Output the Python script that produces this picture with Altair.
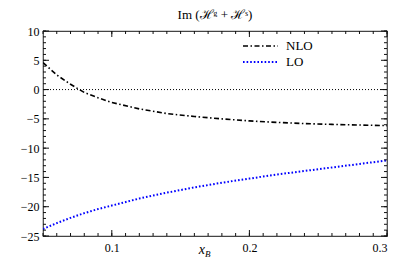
import altair as alt
import pandas as pd

x_vals = [0.05, 0.06, 0.07, 0.08, 0.09, 0.10, 0.12, 0.14, 0.16, 0.18, 0.20, 0.22, 0.24, 0.26, 0.28, 0.30]
nlo_vals = [4.6, 2.5, 0.9, -0.5, -1.4, -2.2, -3.3, -4.1, -4.6, -5.0, -5.35, -5.6, -5.8, -5.95, -6.05, -6.15]
lo_vals = [-23.8, -22.8, -21.9, -21.1, -20.4, -19.8, -18.6, -17.6, -16.7, -15.9, -15.2, -14.5, -13.9, -13.3, -12.7, -12.1]
series = ["NLO", "LO"]
colors = ["black", "blue"]
dashes = [[5, 2.5, 1.5, 2.5], [1.6, 2]]
widths = [1.6, 2.0]

x_major = [0.1, 0.2, 0.3]
x_minor = [round(0.05 + 0.01 * i, 2) for i in range(26)]
y_major = [-25, -20, -15, -10, -5, 0, 5, 10]
y_minor = list(range(-25, 11))

rows = []
for s, vals in zip(series, [nlo_vals, lo_vals]):
    for xv, yv in zip(x_vals, vals):
        rows.append({"x": xv, "y": yv, "s": s})
df = pd.DataFrame(rows)
zero_df = pd.DataFrame({"v": [0]})

FONT = "Liberation Serif, DejaVu Serif, serif"
FRAME = "#444444"
TICK = "#111111"
W, H = 344, 205
xs = alt.Scale(domain=[0.05, 0.3], nice=False, zero=False)
ys = alt.Scale(domain=[-25, 10], nice=False, zero=False)

ax_x = alt.Axis(values=x_major, ticks=False, domain=False, grid=False, format=".1f",
                labelFont=FONT, labelFontSize=12, labelColor="black", labelPadding=6,
                labelOverlap=False, title=None)
ax_y = alt.Axis(values=y_major, ticks=False, domain=False, grid=False,
                labelFont=FONT, labelFontSize=12, labelColor="black", labelPadding=4,
                labelOverlap=False, title=None)

lines = alt.Chart(df).mark_line(clip=True).encode(
    x=alt.X("x:Q", scale=xs, axis=ax_x),
    y=alt.Y("y:Q", scale=ys, axis=ax_y),
    color=alt.Color("s:N", scale=alt.Scale(domain=series, range=colors), legend=None),
    strokeDash=alt.StrokeDash("s:N", scale=alt.Scale(domain=series, range=dashes), legend=None),
    strokeWidth=alt.StrokeWidth("s:N", scale=alt.Scale(domain=series, range=widths), legend=None),
)

zero = alt.Chart(zero_df).mark_rule(color="black", strokeWidth=1, strokeDash=[1, 2]).encode(
    y=alt.Y("v:Q", scale=ys, axis=ax_y)
)

def xticks(values, size):
    d = pd.DataFrame({"tx": values})
    bot = alt.Chart(d).mark_rule(color=TICK, strokeWidth=1).encode(
        x=alt.X("tx:Q", scale=xs, axis=ax_x), y=alt.value(H - size), y2=alt.value(H))
    top = alt.Chart(d).mark_rule(color=TICK, strokeWidth=1).encode(
        x=alt.X("tx:Q", scale=xs, axis=ax_x), y=alt.value(0), y2=alt.value(size))
    return [bot, top]

def yticks(values, size):
    d = pd.DataFrame({"ty": values})
    left = alt.Chart(d).mark_rule(color=TICK, strokeWidth=1).encode(
        y=alt.Y("ty:Q", scale=ys, axis=ax_y), x=alt.value(0), x2=alt.value(size))
    right = alt.Chart(d).mark_rule(color=TICK, strokeWidth=1).encode(
        y=alt.Y("ty:Q", scale=ys, axis=ax_y), x=alt.value(W - size), x2=alt.value(W))
    return [left, right]

tick_layers = xticks(x_minor, 3) + xticks(x_major, 6) + yticks(y_minor, 3) + yticks(y_major, 6)

# legend drawn by hand
leg_df = pd.DataFrame({"s": series})
legend_layers = []
for i, s in enumerate(series):
    one = leg_df[leg_df["s"] == s]
    legend_layers.append(alt.Chart(one).mark_rule(color=colors[i], strokeDash=dashes[i],
                                                  strokeWidth=widths[i]).encode(
        x=alt.value(200), x2=alt.value(235), y=alt.value(15 + 16 * i)))
    legend_layers.append(alt.Chart(one).mark_text(font=FONT, fontSize=13, color="black",
                                                  align="left", baseline="middle").encode(
        text="s:N", x=alt.value(243), y=alt.value(15 + 16 * i)))

xlab = alt.Chart(zero_df).mark_text(text="x", font=FONT, fontSize=14, fontStyle="italic",
                                    align="right", baseline="alphabetic").encode(
    x=alt.value(162), y=alt.value(223))
blab = alt.Chart(zero_df).mark_text(text="B", font=FONT, fontSize=9, fontStyle="italic",
                                    align="left", baseline="alphabetic").encode(
    x=alt.value(162), y=alt.value(226))

chart = alt.layer(lines, zero, *tick_layers, *legend_layers, xlab, blab).properties(
    width=W, height=H,
    title=alt.Title("Im (ℋᵍ + ℋˢ)", font=FONT, fontSize=13, fontWeight="normal", color="black", offset=3),
    autosize=alt.AutoSizeParams(type="none"),
    padding={"left": 35, "top": 23, "right": 12, "bottom": 23},
).configure_view(stroke=FRAME, strokeWidth=1.2)

chart.save("out.html", embed_options={"renderer": "svg", "actions": False})
